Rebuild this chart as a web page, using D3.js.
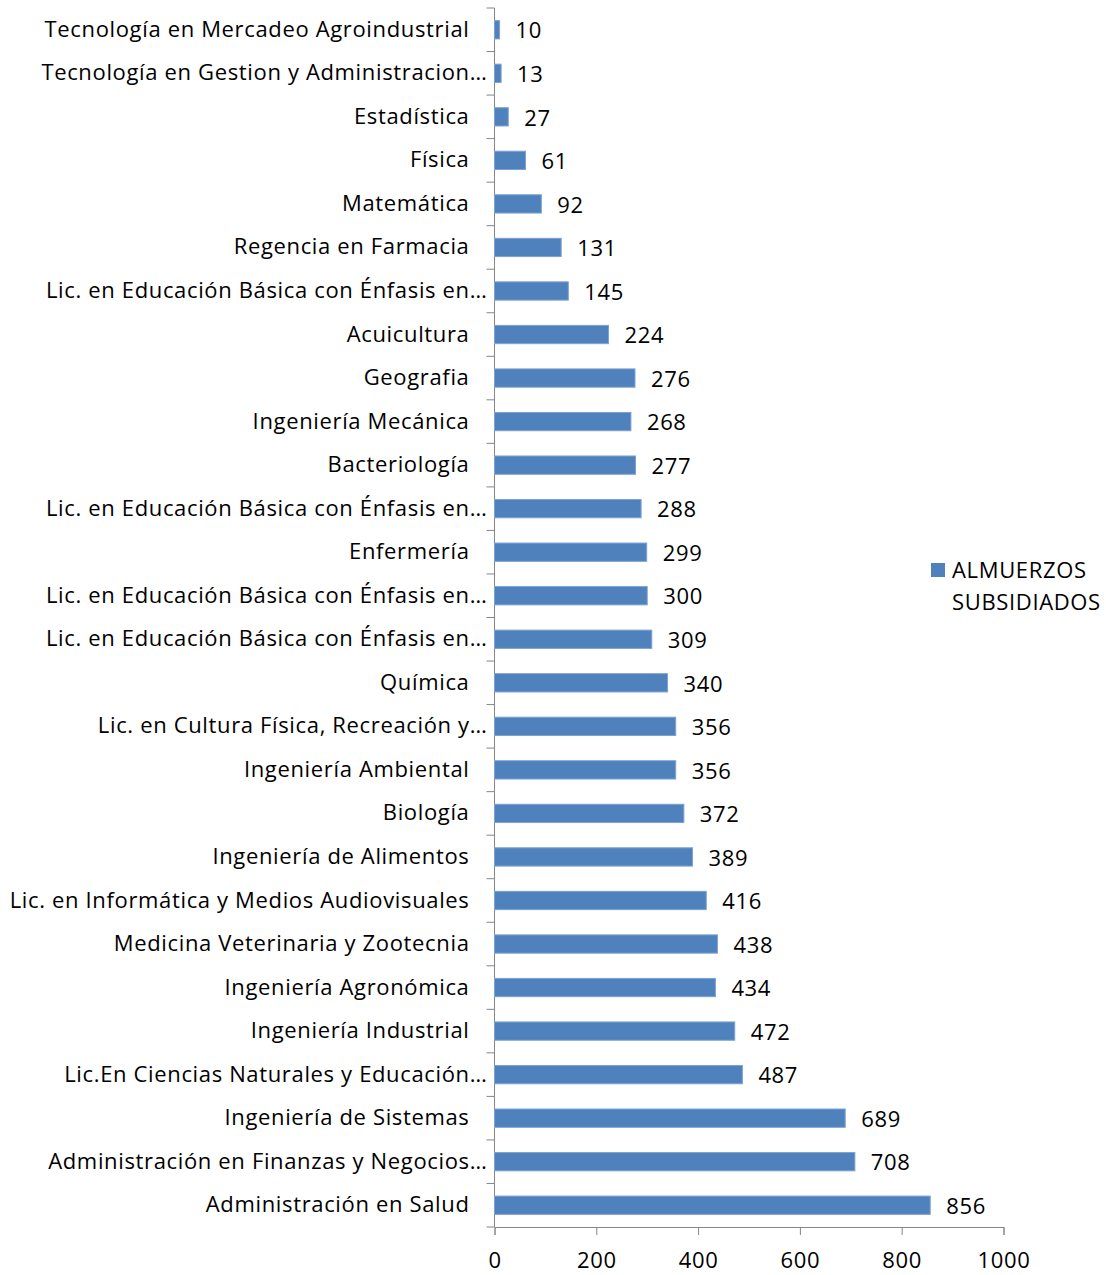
<!DOCTYPE html>
<html>
<head>
<meta charset="utf-8">
<script src="https://cdn.jsdelivr.net/npm/d3@7"></script>
<style>
  body { margin: 0; background: #fff; }
  text { font-family: "Open Sans", "Noto Sans", sans-serif; fill: #000; letter-spacing: 0.65px; }
</style>
</head>
<body>
<div id="chart"></div>
<script>
// categories top to bottom, as they appear in the chart
const programas = [
  "Tecnología en Mercadeo Agroindustrial",
  "Tecnología en Gestion y Administracion…",
  "Estadística",
  "Física",
  "Matemática",
  "Regencia en Farmacia",
  "Lic. en Educación Básica con Énfasis en…",
  "Acuicultura",
  "Geografia",
  "Ingeniería Mecánica",
  "Bacteriología",
  "Lic. en Educación Básica con Énfasis en…",
  "Enfermería",
  "Lic. en Educación Básica con Énfasis en…",
  "Lic. en Educación Básica con Énfasis en…",
  "Química",
  "Lic. en Cultura Física, Recreación y…",
  "Ingeniería Ambiental",
  "Biología",
  "Ingeniería de Alimentos",
  "Lic. en Informática y Medios Audiovisuales",
  "Medicina Veterinaria y Zootecnia",
  "Ingeniería Agronómica",
  "Ingeniería Industrial",
  "Lic.En Ciencias Naturales y Educación…",
  "Ingeniería de Sistemas",
  "Administración en Finanzas y Negocios…",
  "Administración en Salud"
];
const almuerzos = [10, 13, 27, 61, 92, 131, 145, 224, 276, 268, 277, 288, 299, 300,
                   309, 340, 356, 356, 372, 389, 416, 438, 434, 472, 487, 689, 708, 856];
const xTicks = [0, 200, 400, 600, 800, 1000];
const serie = "ALMUERZOS SUBSIDIADOS";

const W = 1106, H = 1275;
const margin = {top: 8, left: 494.5, right: 102.5, bottom: 48};
const width = W - margin.left - margin.right,
      height = H - margin.top - margin.bottom;

const svg = d3.select("#chart")
  .append("svg")
  .attr("width", W)
  .attr("height", H);

const g = svg.append("g")
  .attr("transform", `translate(${margin.left},${margin.top})`);

const x = d3.scaleLinear().domain([0, 1000]).range([0, width]);
const y = d3.scaleBand()
  .domain(d3.range(programas.length))
  .range([0, height])
  .paddingInner(0.58)
  .paddingOuter(0.29);

// y axis: ticks between categories
const yEdges = d3.range(programas.length + 1).map(i => i * height / programas.length);
g.append("line")
  .attr("x1", 0).attr("x2", 0)
  .attr("y1", 0).attr("y2", height)
  .attr("stroke", "#868686");
g.selectAll(".ytick")
  .data(yEdges)
  .join("line")
  .attr("x1", -8).attr("x2", 0)
  .attr("y1", d => d).attr("y2", d => d)
  .attr("stroke", "#868686");

// category labels
g.selectAll(".cat")
  .data(programas)
  .join("text")
  .attr("x", d => d.endsWith("…") ? -7 : -25)
  .attr("y", (d, i) => y(i) + y.bandwidth() / 2)
  .attr("dy", "0.32em")
  .attr("text-anchor", "end")
  .style("font-size", "22px")
  .text(d => d);

// x axis
const xAxis = g.append("g")
  .attr("transform", `translate(0,${height})`)
  .call(d3.axisBottom(x).tickValues(xTicks).tickFormat(d3.format("d")).tickSize(8).tickPadding(17));
xAxis.select(".domain").attr("stroke", "#868686");
xAxis.selectAll(".tick line").attr("stroke", "#868686");
xAxis.selectAll(".tick text")
  .style("font-size", "22px")
  .style("font-family", "'Open Sans', 'Noto Sans', sans-serif")
  .attr("fill", "#000");

// bars
g.selectAll(".bar")
  .data(almuerzos)
  .join("rect")
  .attr("x", 0)
  .attr("y", (d, i) => y(i))
  .attr("width", d => x(d))
  .attr("height", y.bandwidth())
  .attr("fill", "#4F81BD")
  .attr("stroke", "#7DA2CF")
  .attr("stroke-width", 1);

// value labels
g.selectAll(".val")
  .data(almuerzos)
  .join("text")
  .attr("x", d => x(d) + 16)
  .attr("y", (d, i) => y(i) + y.bandwidth() / 2 + 1)
  .attr("dy", "0.35em")
  .style("font-size", "22px")
  .text(d => d);

// legend
const lg = svg.append("g").attr("transform", "translate(931,563)");
lg.append("rect")
  .attr("width", 14).attr("height", 14)
  .attr("fill", "#4F81BD");
const words = serie.split(" ");
lg.selectAll("text")
  .data(words)
  .join("text")
  .attr("x", 21)
  .attr("y", (d, i) => 15 + i * 32)
  .style("font-size", "22px")
  .text(d => d);
</script>
</body>
</html>
